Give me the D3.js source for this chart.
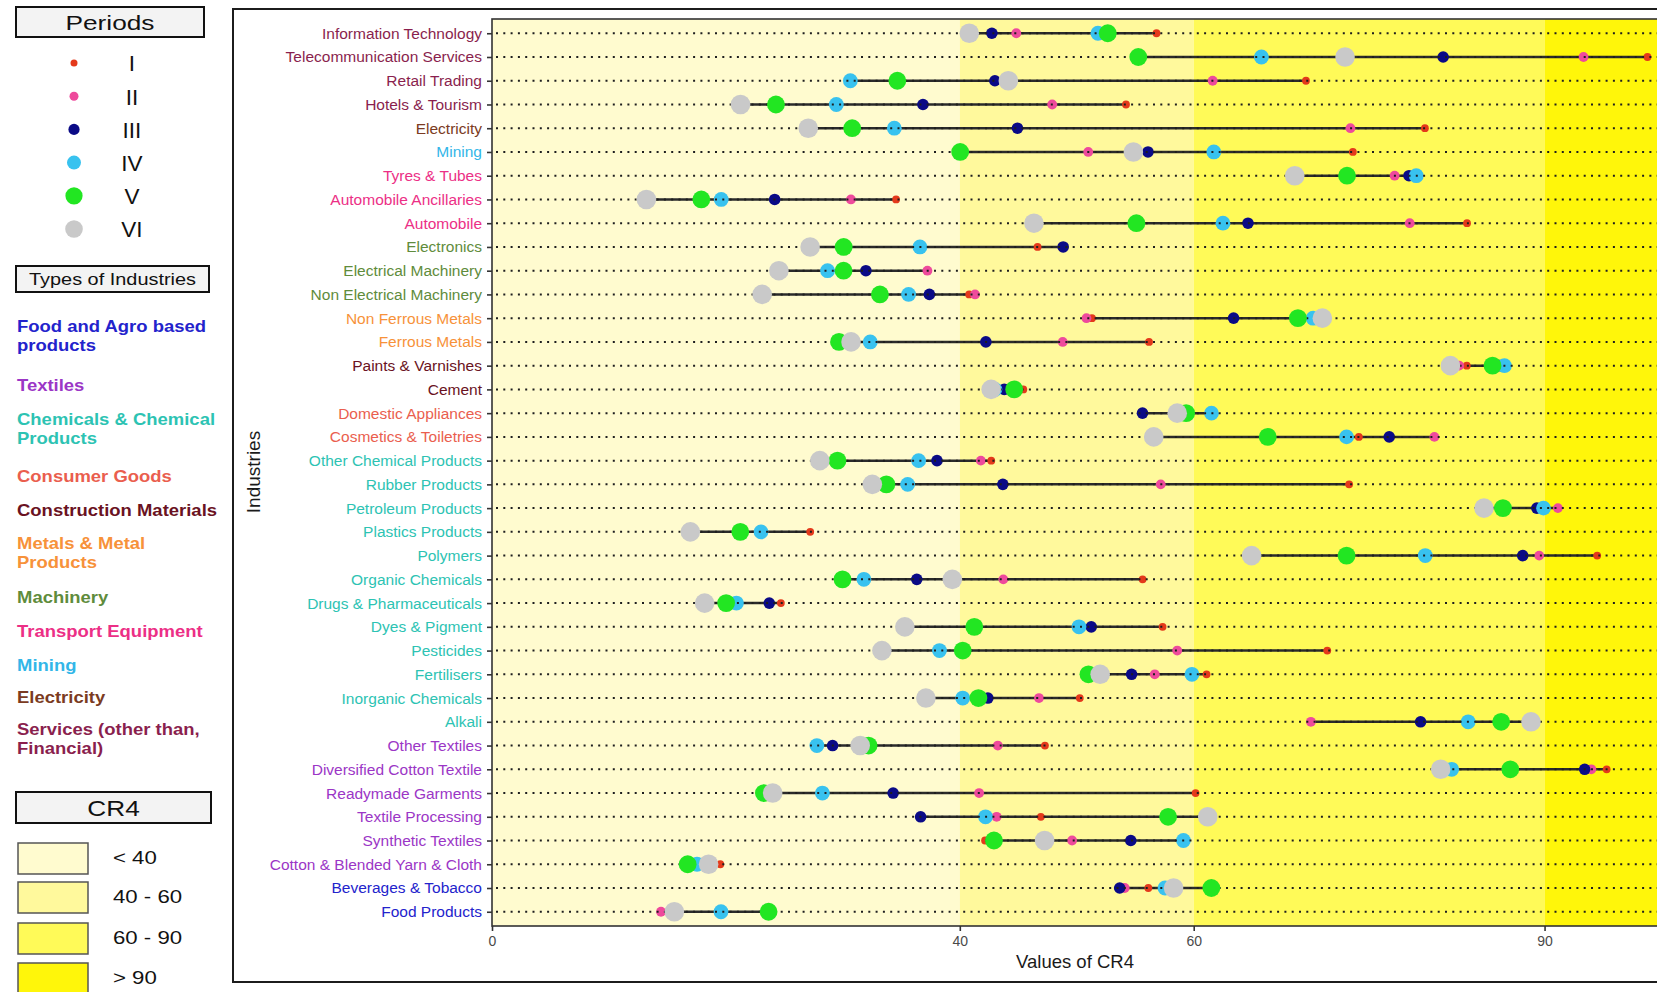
<!DOCTYPE html>
<html><head><meta charset="utf-8">
<script src="https://cdn.jsdelivr.net/npm/d3@7"></script>
<style>
body{margin:0;background:#fff;}
svg{display:block;font-family:"Liberation Sans",Arial,Helvetica,sans-serif;}
</style>
</head><body>
<svg id="c" width="1657" height="992"></svg>
<script>
// ---------------- DATA ----------------
const industries = [
  "Information Technology","Telecommunication Services","Retail Trading","Hotels & Tourism",
  "Electricity","Mining","Tyres & Tubes","Automobile Ancillaries","Automobile","Electronics",
  "Electrical Machinery","Non Electrical Machinery","Non Ferrous Metals","Ferrous Metals",
  "Paints & Varnishes","Cement","Domestic Appliances","Cosmetics & Toiletries",
  "Other Chemical Products","Rubber Products","Petroleum Products","Plastics Products",
  "Polymers","Organic Chemicals","Drugs & Pharmaceuticals","Dyes & Pigment","Pesticides",
  "Fertilisers","Inorganic Chemicals","Alkali","Other Textiles","Diversified Cotton Textile",
  "Readymade Garments","Textile Processing","Synthetic Textiles","Cotton & Blended Yarn & Cloth",
  "Beverages & Tobacco","Food Products"
];
const industryType = [
  "serv","serv","serv","serv","elec","mining","trans","trans","trans","mach","mach","mach",
  "metal","metal","constr","constr","cons","cons",
  "chem","chem","chem","chem","chem","chem","chem","chem","chem","chem","chem","chem",
  "tex","tex","tex","tex","tex","tex","food","food"
];
const periods = ["I","II","III","IV","V","VI"];
const periodI   = [56.82,98.8,69.6,54.21,79.77,73.61,78.6,34.55,83.37,46.65,37.2,40.8,51.3,56.18,83.35,45.43,59.5,74.12,42.69,73.29,90.1,27.21,94.5,55.63,24.7,57.34,71.42,61.1,50.26,70.05,47.28,95.31,60.16,46.93,42.16,19.52,56.12,14.45];
const periodII  = [44.83,93.33,61.62,47.9,73.4,50.98,77.18,30.69,78.47,48.8,37.23,41.3,50.83,48.8,82.7,44.5,58.9,80.58,41.8,57.18,91.14,21.25,89.54,43.72,20.05,50.2,58.59,56.67,46.77,70.02,43.25,94.0,41.65,43.15,49.6,18.5,54.1,14.45];
const periodIII = [42.74,81.33,43.0,36.85,44.93,56.09,78.41,24.17,64.64,48.84,31.97,37.4,63.41,42.23,86.2,43.8,55.62,76.72,38.05,43.68,89.34,23.02,88.13,36.32,23.71,51.24,40.2,54.69,42.4,79.4,29.12,93.43,34.3,36.65,54.62,18.5,53.67,15.6];
const periodIV  = [51.81,65.79,30.64,29.44,34.4,61.72,79.03,19.6,62.5,36.59,28.69,35.62,70.21,32.34,86.57,43.0,61.52,73.07,36.48,35.54,89.91,23.0,79.8,31.8,20.9,50.19,38.26,59.85,40.25,83.47,27.78,82.06,28.25,42.2,59.12,17.53,57.55,19.58];
const periodV   = [52.65,55.26,34.66,24.28,30.8,40.03,73.11,17.9,55.1,30.07,30.06,33.17,68.91,29.67,85.55,44.65,59.35,66.33,29.54,33.72,86.44,21.23,73.07,29.97,20.02,41.24,40.25,51.0,41.59,86.29,32.2,87.07,23.25,57.81,42.92,16.73,61.51,23.65];
const periodVI  = [40.81,72.94,44.15,21.25,27.04,54.84,68.64,13.2,46.34,27.2,24.53,23.1,71.0,30.7,81.95,42.68,58.59,56.58,28.03,32.52,84.82,16.96,64.95,39.36,18.18,35.3,33.34,52.0,37.1,88.84,31.48,81.12,24.0,61.2,47.25,18.52,58.28,15.59];
const periodSeries = [periodI, periodII, periodIII, periodIV, periodV, periodVI];

const typeKeys   = ["food","tex","chem","cons","constr","metal","mach","trans","mining","elec","serv"];
const typeLabels = [["Food and Agro based","products"],["Textiles"],["Chemicals & Chemical","Products"],
  ["Consumer Goods"],["Construction Materials"],["Metals & Metal","Products"],["Machinery"],
  ["Transport Equipment"],["Mining"],["Electricity"],["Services (other than,","Financial)"]];
const crLabels = ["< 40","40 - 60","60 - 90","> 90"];
const crBreaks = [0,40,60,90,99.7];
const xTicks = [0,40,60,90];

// ---------------- STYLE ----------------
const typeColor = {food:"#2323CC",tex:"#9B36C6",chem:"#2DC3B3",cons:"#EA5E4E",constr:"#6A1222",
  metal:"#F7923A",mach:"#5F8C3C",trans:"#EC2F86",mining:"#32B6E8",elec:"#7B3B22",serv:"#8A1F4E"};
const periodColor = ["#E4391B","#EE4A9C","#0A0A86","#38C2EF","#22E622","#C9C9C9"];
const periodR = [3.9,4.9,5.8,7.4,8.9,9.8];
const legendR = [3.5,4.5,5.6,7.0,8.6,8.8];
const bandColor = ["#FFFBCF","#FFF99C","#FFFA58","#FFF60A"];

const svg = d3.select("#c");
const panel = {left:492, top:19, bottom:926, right:1658};
const x = d3.scaleLinear().domain([0, crBreaks[4]]).range([panel.left, panel.right]);
const y = d3.scalePoint().domain(industries).range([panel.top, panel.bottom]).padding(0.6);

// outer frame
svg.append("rect").attr("x",233).attr("y",9).attr("width",1500).attr("height",973)
  .attr("fill","#fff").attr("stroke","#1c1c1c").attr("stroke-width",2);

// bands
const g = svg.append("g");
g.selectAll("rect.band").data(bandColor).join("rect").attr("class","band")
  .attr("x",(d,i)=>x(crBreaks[i])).attr("width",(d,i)=>x(crBreaks[i+1])-x(crBreaks[i]))
  .attr("y",panel.top).attr("height",panel.bottom-panel.top).attr("fill",d=>d);

const rows = industries.map((name,i)=>({name, vals: periodSeries.map(s=>s[i])}));

// segments
g.selectAll("line.seg").data(rows).join("line").attr("class","seg")
  .attr("x1",d=>x(d3.min(d.vals))).attr("x2",d=>x(d3.max(d.vals)))
  .attr("y1",d=>y(d.name)).attr("y2",d=>y(d.name))
  .attr("stroke","#2a2a2a").attr("stroke-width",2.5);

function drawPeriod(pi){
  g.append("g").selectAll("circle").data(rows).join("circle")
    .attr("cx",d=>x(d.vals[pi])).attr("cy",d=>y(d.name))
    .attr("r",periodR[pi]).attr("fill",periodColor[pi]);
}
[0,1,2,3].forEach(drawPeriod);

// dotted guides
g.selectAll("line.guide").data(industries).join("line").attr("class","guide")
  .attr("x1",x(0)).attr("x2",x(crBreaks[4]))
  .attr("y1",d=>y(d)).attr("y2",d=>y(d))
  .attr("stroke","#1e1e1e").attr("stroke-width",2)
  .attr("stroke-dasharray","2,5.3").attr("stroke-dashoffset",-4);

[4,5].forEach(drawPeriod);

// panel border
svg.append("rect").attr("x",panel.left).attr("y",panel.top)
  .attr("width",panel.right-panel.left).attr("height",panel.bottom-panel.top)
  .attr("fill","none").attr("stroke","#333").attr("stroke-width",1.6);

// axes
const ya = svg.append("g").attr("transform",`translate(${panel.left},0)`)
  .call(d3.axisLeft(y).tickSize(5).tickPadding(5));
ya.select(".domain").remove();
ya.selectAll(".tick line").attr("stroke","#333").attr("stroke-width",1.6);
ya.selectAll(".tick text").attr("font-size","15.5px").attr("font-family","Liberation Sans, Arial, sans-serif")
  .attr("fill",d=>typeColor[industryType[industries.indexOf(d)]]);

const xa = svg.append("g").attr("transform",`translate(0,${panel.bottom})`)
  .call(d3.axisBottom(x).tickValues(xTicks).tickFormat(d3.format("d")).tickSize(5).tickPadding(5));
xa.select(".domain").remove();
xa.selectAll(".tick line").attr("stroke","#333").attr("stroke-width",1.6);
xa.selectAll(".tick text").attr("font-size","14px").attr("font-family","Liberation Sans, Arial, sans-serif").attr("fill","#4a4a4a");

svg.append("text").attr("x",(panel.left+panel.right)/2).attr("y",968).attr("text-anchor","middle")
  .attr("font-size","18.5px").attr("fill","#1a1a1a").text("Values of CR4");
svg.append("text").attr("transform","translate(260,472) rotate(-90)").attr("text-anchor","middle")
  .attr("font-size","19px").attr("fill","#1a1a1a").text("Industries");

// ---------------- LEGENDS ----------------
const L = svg.append("g");
function titleBox(x0,y0,w,h,label,fs,sx,base,weight){
  L.append("rect").attr("x",x0).attr("y",y0).attr("width",w).attr("height",h)
    .attr("fill","#f3f3f3").attr("stroke","#111").attr("stroke-width",2);
  L.append("text").attr("transform",`translate(${x0+w/2},${base}) scale(${sx},1)`)
    .attr("text-anchor","middle").attr("font-size",fs+"px").attr("font-weight",weight||"normal")
    .attr("fill","#111").text(label);
}
titleBox(16,7,188,30,"Periods",21,1.25,30);
periods.forEach((p,i)=>{
  const cy = 63 + i*33.2;
  L.append("circle").attr("cx",74).attr("cy",cy).attr("r",legendR[i]).attr("fill",periodColor[i]);
  L.append("text").attr("x",132).attr("y",cy+8.3).attr("text-anchor","middle")
    .attr("font-size","22.5px").attr("fill","#111").text(p);
});

titleBox(16,266,193,26,"Types of Industries",17,1.17,285);
const typeBase = [331.7,391,425,481.7,515.7,549,602.7,636.7,670.7,702.7,735];
typeKeys.forEach((k,i)=>{
  typeLabels[i].forEach((line,j)=>{
    L.append("text").attr("transform",`translate(17,${typeBase[i]+j*19}) scale(1.12,1)`)
      .attr("font-size","16.5px").attr("font-weight","bold").attr("fill",typeColor[k]).text(line);
  });
});

titleBox(16,792,195,31,"CR4",22,1.19,816);
const swY = [843,882,923,963];
crLabels.forEach((lab,i)=>{
  L.append("rect").attr("x",18).attr("y",swY[i]).attr("width",70).attr("height",31)
    .attr("fill",bandColor[i]).attr("stroke","#555").attr("stroke-width",1.5);
  L.append("text").attr("transform",`translate(113,${swY[i]+21}) scale(1.2,1)`)
    .attr("font-size","18.5px").attr("fill","#111").text(lab);
});
</script>
</body></html>
